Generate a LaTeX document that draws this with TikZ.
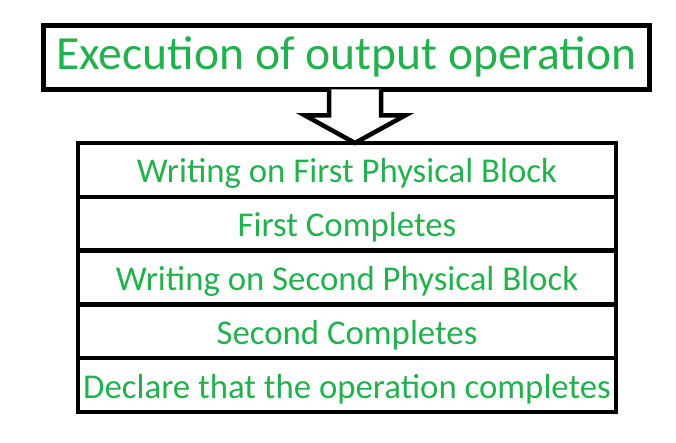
\documentclass[tikz,border=0pt]{standalone}
\usepackage{fontspec}
\setmainfont{Carlito}
\usetikzlibrary{positioning, calc}
\definecolor{paintgreen}{RGB}{34,177,76}

\begin{document}
\begin{tikzpicture}[
    x=1pt, y=1pt,
    titlebox/.style={draw, line width=4.5pt, outer sep=0pt, minimum width=606pt, minimum height=64pt, inner sep=0pt, text height=25pt, text depth=0pt, font=\fontsize{47.6}{50}\selectfont, text=paintgreen},
    rowbox/.style={draw, line width=4.5pt, outer sep=0pt, minimum width=538pt, minimum height=53.8pt, inner sep=0pt, text height=26pt, text depth=0pt, font=\fontsize{34.8}{38}\selectfont, text=paintgreen},
    blockarr/.style={draw, line width=4.5pt, line join=miter, fill=white}
]
\useasboundingbox (0,0) rectangle (676,-443);

% Title
\node[titlebox] (title) at (346.5,-57.5) {Execution of output operation};

% Steps
\node[rowbox] (first) at (347,-169.9) {Writing on First Physical Block};
\node[rowbox, below=0pt of first] (firstdone) {First Completes};
\node[rowbox, below=0pt of firstdone] (second) {Writing on Second Physical Block};
\node[rowbox, below=0pt of second] (seconddone) {Second Completes};
\node[rowbox, below=0pt of seconddone] (declare) {Declare that the operation completes};

% Block arrow
\coordinate (tip) at ($(first.north)+(8,0)$);
\draw[blockarr] ($(tip|-title.south)+(-26,0)$) -- ++(0,-26) -- ++(-24,0) -- (tip)
    -- ($(tip|-title.south)+(50,-26)$) -- ++(-24,0) -- ($(tip|-title.south)+(26,0)$);

\end{tikzpicture}
\end{document}
